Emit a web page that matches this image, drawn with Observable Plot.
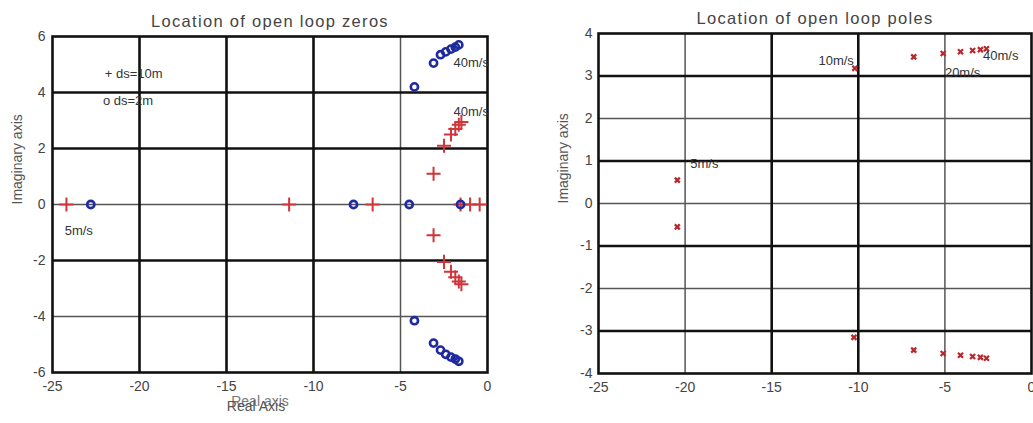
<!DOCTYPE html>
<html><head><meta charset="utf-8">
<script src="https://cdn.jsdelivr.net/npm/d3@7"></script>
<script src="https://cdn.jsdelivr.net/npm/@observablehq/plot@0.6"></script>
<style>
body{margin:0;background:#fff;overflow:hidden;}
#wrap{display:flex;width:1033px;height:423px;overflow:hidden;}
svg{font-family:"Liberation Sans",Arial,sans-serif;flex:none;}
</style></head><body><div id="wrap"></div>
<script>
// ---------- Left panel: open loop zeros ----------
const zerosTitle = "Location of open loop zeros";
const zerosXTicks = [-25, -20, -15, -10, -5, 0];
const zerosYTicks = [-6, -4, -2, 0, 2, 4, 6];
const zerosGridXThick = [-20, -15, -10];
const zerosGridXThin = [-5];
const zerosGridYThick = [4, 2, -2];
const zerosGridYThin = [0, -4];
// "+" ds=10m
const plus10Re = [-24.2, -11.4, -6.6, -1.55, -1.0, -0.45, -3.1, -2.5, -2.1, -1.85, -1.65, -1.5, -3.1, -2.5, -2.1, -1.85, -1.65, -1.5];
const plus10Im = [0, 0, 0, 0, 0, 0, 1.1, 2.1, 2.5, 2.7, 2.85, 2.95, -1.1, -2.05, -2.4, -2.6, -2.75, -2.85];
// "o" ds=2m
const circ2Re = [-22.8, -7.7, -4.5, -1.55, -4.2, -3.1, -2.7, -2.4, -2.1, -1.85, -1.65, -4.2, -3.1, -2.7, -2.4, -2.1, -1.85, -1.65];
const circ2Im = [0, 0, 0, 0, 4.2, 5.05, 5.35, 5.45, 5.55, 5.62, 5.7, -4.15, -4.95, -5.2, -5.35, -5.45, -5.52, -5.6];
const zerosNotes = ["+ ds=10m", "o ds=2m", "40m/s", "40m/s", "5m/s"];
const zerosNoteX = [-22.0, -22.1, -1.95, -1.95, -24.3];
const zerosNoteY = [4.65, 3.7, 5.05, 3.3, -0.95];

// ---------- Right panel: open loop poles ----------
const polesTitle = "Location of open loop poles";
const polesXTicks = [-25, -20, -15, -10, -5, 0];
const polesYTicks = [-4, -3, -2, -1, 0, 1, 2, 3, 4];
const polesGridXThick = [-15, -10];
const polesGridXThin = [-20, -5];
const polesGridYThick = [3, 1, -1, -3];
const polesGridYThin = [2, 0, -2];
const poleRe = [-20.45, -10.2, -6.8, -5.1, -4.1, -3.4, -2.95, -2.6, -20.45, -10.25, -6.8, -5.1, -4.1, -3.4, -2.95, -2.6];
const poleIm = [0.55, 3.18, 3.45, 3.53, 3.57, 3.6, 3.62, 3.64, -0.55, -3.15, -3.45, -3.53, -3.57, -3.6, -3.62, -3.64];
const polesNotes = ["10m/s", "20m/s", "40m/s", "5m/s"];
const polesNoteX = [-12.3, -5.0, -2.8, -19.7];
const polesNoteY = [3.36, 3.08, 3.48, 0.94];

const font = "Liberation Sans, Arial, sans-serif";
const textColor = "#333";

function pts(re, im) { return re.map((r, i) => ({x: r, y: im[i]})); }
function notes(t, xs, ys) { return t.map((s, i) => ({t: s, x: xs[i], y: ys[i]})); }

function panel(o) {
  const svg = Plot.plot({
    width: o.width, height: 423,
    marginLeft: o.ml, marginRight: o.mr, marginTop: o.mt, marginBottom: o.mb,
    style: {fontFamily: font, color: textColor, background: "#fff", overflow: "visible"},
    x: {domain: [-25, 0]},
    y: {domain: o.ydomain},
    marks: [
      Plot.ruleX(o.gxThin, {stroke: "#555", strokeWidth: 1.5}),
      Plot.ruleY(o.gyThin, {stroke: "#555", strokeWidth: 1.5}),
      Plot.ruleX(o.gxThick, {stroke: "#111", strokeWidth: 2.6}),
      Plot.ruleY(o.gyThick, {stroke: "#111", strokeWidth: 2.6}),
      Plot.frame({stroke: "#111", strokeWidth: 2.6}),
      ...o.marks,
      Plot.text(o.notes, {x: "x", y: "y", text: "t", textAnchor: "start", fontSize: 13, fill: textColor}),
      Plot.axisX({ticks: o.xticks, tickSize: 0, tickPadding: 9, tickFormat: d => String(d), fontSize: 14, fill: "#444", label: null}),
      Plot.axisY({ticks: o.yticks, tickSize: 0, tickPadding: o.ytp, tickFormat: d => String(d), fontSize: 14, fill: "#444", label: null}),
      Plot.text([o.title], {frameAnchor: "top", dy: o.tdy, fontSize: 16.5, fill: "#444"}),
      Plot.text(["Imaginary axis"], {frameAnchor: "left", dx: -35, rotate: -90, fontSize: 14, fill: "#555"}),
      ...o.extra
    ]
  });
  d3.select(svg).selectAll("text").filter(function() { return this.textContent === o.title; })
    .style("letter-spacing", "1.3px");
  return svg;
}

const left = panel({
  width: 520, ml: 52, mr: 33, mt: 36, mb: 51, tdy: -21,
  ydomain: [-6, 6], xticks: zerosXTicks, yticks: zerosYTicks, ytp: 7,
  gxThick: zerosGridXThick, gxThin: zerosGridXThin, gyThick: zerosGridYThick, gyThin: zerosGridYThin,
  title: zerosTitle,
  notes: notes(zerosNotes, zerosNoteX, zerosNoteY),
  marks: [
    Plot.dot(pts(plus10Re, plus10Im), {x: "x", y: "y", symbol: "plus", r: 4.6, stroke: "#d0353a", strokeWidth: 2}),
    Plot.dot(pts(circ2Re, circ2Im), {x: "x", y: "y", r: 3.6, fill: "none", stroke: "#1e2a9e", strokeWidth: 2.6})
  ],
  extra: [
    Plot.text(["Real axis"], {frameAnchor: "bottom", dy: 33, dx: -10, fontSize: 14, fill: "#777"}),
    Plot.text(["Real Axis"], {frameAnchor: "bottom", dy: 38, dx: -14, fontSize: 14, fill: "#555"})
  ]
});

const right = panel({
  width: 513, ml: 78, mr: 2, mt: 33, mb: 50, tdy: -21,
  ydomain: [-4, 4], xticks: polesXTicks, yticks: polesYTicks, ytp: 6,
  gxThick: polesGridXThick, gxThin: polesGridXThin, gyThick: polesGridYThick, gyThin: polesGridYThin,
  title: polesTitle,
  notes: notes(polesNotes, polesNoteX, polesNoteY),
  marks: [
    Plot.dot(pts(poleRe, poleIm), {x: "x", y: "y", symbol: "times", r: 2.4, stroke: "#b8282c", strokeWidth: 2.2})
  ],
  extra: []
});

document.getElementById("wrap").append(left, right);
</script></body></html>
